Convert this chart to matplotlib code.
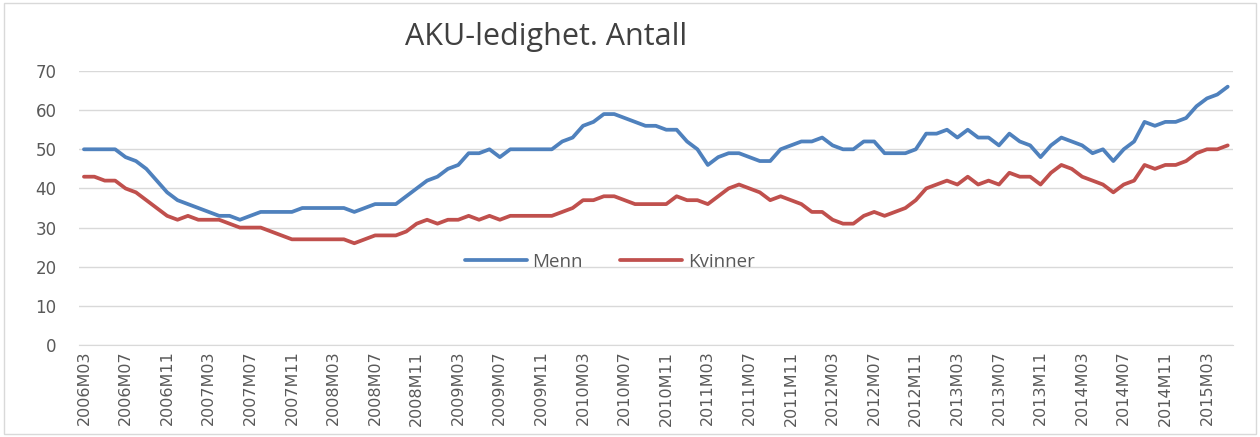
import matplotlib
matplotlib.use("Agg")
import matplotlib.pyplot as plt
from matplotlib.patches import Rectangle

# monthly periods 2006M03 .. 2015M05
years = list(range(2006, 2016))
periods = []
for y in years:
    for m in range(1, 13):
        if (y == 2006 and m < 3) or (y == 2015 and m > 5):
            continue
        periods.append("%dM%02d" % (y, m))

menn = [50, 50, 50, 50, 48, 47, 45, 42, 39, 37, 36, 35, 34, 33, 33, 32, 33, 34, 34, 34,
        34, 35, 35, 35, 35, 35, 34, 35, 36, 36, 36, 38, 40, 42, 43, 45, 46, 49, 49, 50,
        48, 50, 50, 50, 50, 50, 52, 53, 56, 57, 59, 59, 58, 57, 56, 56, 55, 55, 52, 50,
        46, 48, 49, 49, 48, 47, 47, 50, 51, 52, 52, 53, 51, 50, 50, 52, 52, 49, 49, 49,
        50, 54, 54, 55, 53, 55, 53, 53, 51, 54, 52, 51, 48, 51, 53, 52, 51, 49, 50, 47,
        50, 52, 57, 56, 57, 57, 58, 61, 63, 64, 66]
kvinner = [43, 43, 42, 42, 40, 39, 37, 35, 33, 32, 33, 32, 32, 32, 31, 30, 30, 30, 29, 28,
           27, 27, 27, 27, 27, 27, 26, 27, 28, 28, 28, 29, 31, 32, 31, 32, 32, 33, 32, 33,
           32, 33, 33, 33, 33, 33, 34, 35, 37, 37, 38, 38, 37, 36, 36, 36, 36, 38, 37, 37,
           36, 38, 40, 41, 40, 39, 37, 38, 37, 36, 34, 34, 32, 31, 31, 33, 34, 33, 34, 35,
           37, 40, 41, 42, 41, 43, 41, 42, 41, 44, 43, 43, 41, 44, 46, 45, 43, 42, 41, 39,
           41, 42, 46, 45, 46, 46, 47, 49, 50, 50, 51]

blue = "#4F81BD"
red = "#C0504D"
grey_txt = "#595959"

fig = plt.figure(figsize=(12.6, 4.37), dpi=100)
ax = fig.add_axes([0.0625, 0.2105, 0.916, 0.627])

x = list(range(len(periods)))
ax.plot(x, menn, color=blue, lw=2.7, label="Menn", solid_capstyle="round")
ax.plot(x, kvinner, color=red, lw=2.7, label="Kvinner", solid_capstyle="round")

ax.set_xlim(-0.5, len(periods) - 0.5)
ax.set_ylim(0, 70)
ax.set_yticks(range(0, 71, 10))
ax.yaxis.grid(True, color="#D9D9D9", lw=1)
ax.set_axisbelow(True)
for s in ["top", "right", "left"]:
    ax.spines[s].set_visible(False)
ax.spines["bottom"].set_color("#D9D9D9")
ax.tick_params(length=0)
ax.tick_params(axis="y", labelsize=12, labelcolor=grey_txt, pad=16)

ticks = x[::4]
ax.set_xticks(ticks)
ax.set_xticklabels([periods[i] for i in ticks], rotation=90,
                   fontsize=11.5, color=grey_txt,
                   family=["Liberation Sans Narrow", "DejaVu Sans"])
ax.tick_params(axis="x", pad=4)

ax.legend(loc="center", bbox_to_anchor=(0.46, 0.303), ncol=2, frameon=False,
          labelcolor=grey_txt, handlelength=3.3, columnspacing=2.0,
          handletextpad=0.3, prop={"family": "Open Sans", "size": 13.5})

fig.text(0.433, 0.915, "AKU-ledighet. Antall", ha="center", va="center",
         fontsize=22, color="#404040", family="Open Sans")

fig.patches.append(Rectangle((0.003, 0.008), 0.994, 0.985, transform=fig.transFigure,
                             fill=False, edgecolor="#D9D9D9", lw=1))

fig.savefig("out.png", dpi=100)
